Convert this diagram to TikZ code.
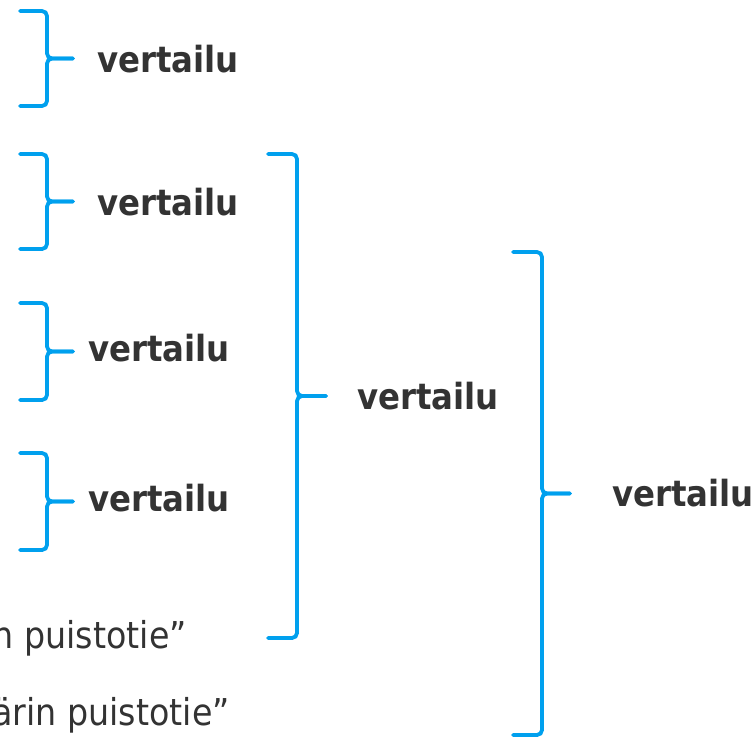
\documentclass[tikz,border=0pt]{standalone}
\usepackage{fontspec}
\setmainfont{DejaVu Sans Condensed}
\definecolor{bracecol}{RGB}{0,160,238}
\definecolor{textcol}{RGB}{51,51,51}

\begin{document}
\begin{tikzpicture}[x=1pt, y=-1pt,
    brak/.style={draw=bracecol, line width=3.8pt, rounded corners=5pt, line cap=round},
    lbl/.style={anchor=base west, inner sep=0pt, text=textcol, font=\fontsize{36}{42}\selectfont\bfseries},
    road/.style={anchor=base east, inner sep=0pt, text=textcol, font=\fontsize{37}{44}\selectfont}]
    % frame
    \useasboundingbox (0,0) rectangle (756,737);
    % braces
    \foreach \l/\v/\p/\t/\b in {20/47/73/11/106, 20/47/73/154/249, 20/47/73/303/400,
                               20/47/73/453/550, 268/297/326/154/638, 513/542/570/252/735}
    {
    \coordinate (top) at (\l,\t);
    \coordinate (bot) at (\l,\b);
    \coordinate (tip) at (\p,{(\t+\b)/2});
    \draw [brak] (top) -- (\v,\t) -- (\v,{(\t+\b)/2}) -- (tip);
    \draw [brak] (bot) -- (\v,\b) -- (\v,{(\t+\b)/2}) -- (tip);
    }
    % labels
    \node[lbl] (cmp-a) at (97,72)  {vertailu};
    \node[lbl] (cmp-b) at (97,215) {vertailu};
    \node[lbl] (cmp-c) at (88,361) {vertailu};
    \node[lbl] (cmp-d) at (88,511) {vertailu};
    \node[lbl] (cmp-e) at (357,409) {vertailu};
    \node[lbl] (cmp-f) at (612,506) {vertailu};
    % cut street names
    \node[road] (road-a) at (187,648) {n puistotie”};
    \node[road] (road-b) at (230,725) {ärin puistotie”};
\end{tikzpicture}
\end{document}
